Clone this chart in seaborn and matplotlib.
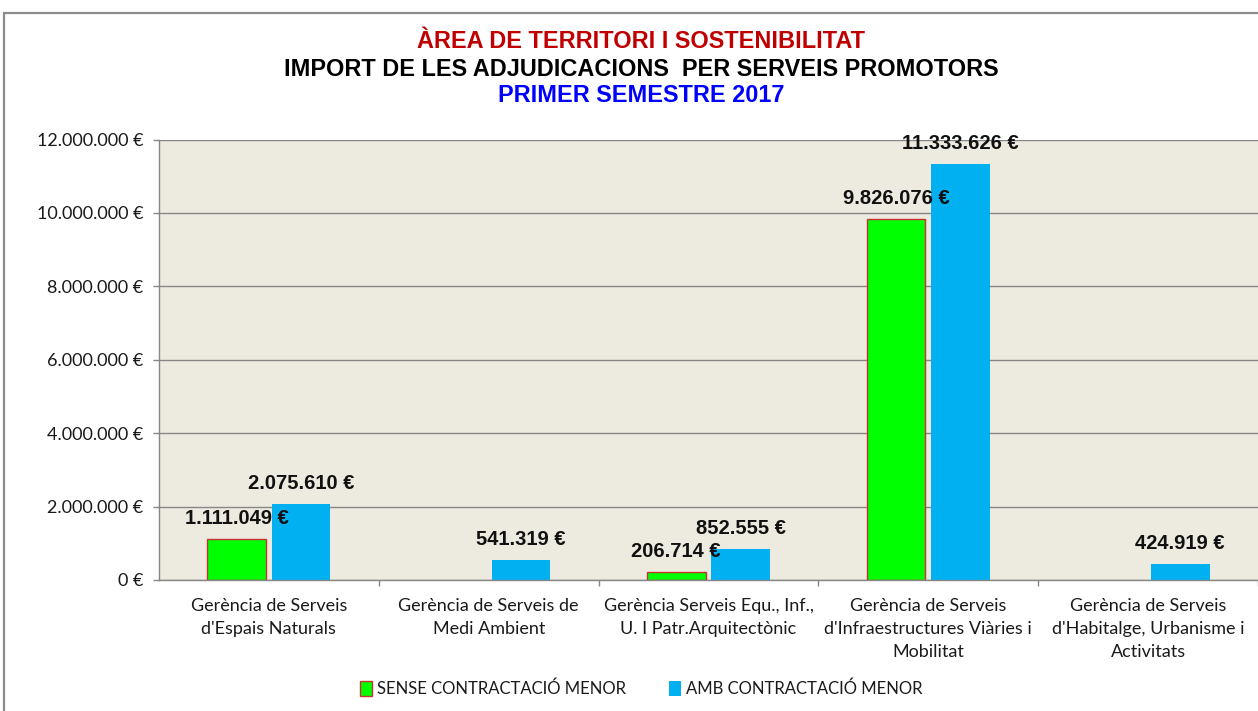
import numpy as np
import pandas as pd
import matplotlib
matplotlib.use("Agg")
import matplotlib.pyplot as plt
from matplotlib.lines import Line2D
from matplotlib.patches import Patch
from matplotlib.ticker import FuncFormatter, MultipleLocator, FixedLocator
import seaborn as sns

categories = [
    "Gerència de Serveis\nd'Espais Naturals",
    "Gerència de Serveis de\nMedi Ambient",
    "Gerència Serveis Equ., Inf.,\nU. I Patr.Arquitectònic",
    "Gerència de Serveis\nd'Infraestructures Viàries i\nMobilitat",
    "Gerència de Serveis\nd'Habitalge, Urbanisme i\nActivitats",
]
series_names = ["SENSE CONTRACTACIÓ MENOR", "AMB CONTRACTACIÓ MENOR"]
sense_values = [1111049, 0, 206714, 9826076, 0]
amb_values = [2075610, 541319, 852555, 11333626, 424919]
title_lines = ["ÀREA DE TERRITORI I SOSTENIBILITAT",
               "IMPORT DE LES ADJUDICACIONS  PER SERVEIS PROMOTORS",
               "PRIMER SEMESTRE 2017"]

colors = {"SENSE CONTRACTACIÓ MENOR": "#00FF00", "AMB CONTRACTACIÓ MENOR": "#00B0F0"}

rows = []
for c, s, a in zip(categories, sense_values, amb_values):
    if s:
        rows.append((c, series_names[0], s))
    if a:
        rows.append((c, series_names[1], a))
df = pd.DataFrame(rows, columns=["cat", "serie", "value"])

def euro(v, pos=None):
    return f"{v:,.0f}".replace(",", ".") + " €"

sns.set_theme(style="white")
plt.rcParams['font.family'] = ['Lato', 'DejaVu Sans']

W, H = 1258, 711
fig = plt.figure(figsize=(W / 100, H / 100), dpi=100)
ax = fig.add_axes([159 / W, 1 - 580 / H, 1 - 159 / W, (580 - 139.5) / H])
ax.set_facecolor("#EDEAE0")

sns.barplot(data=df, x="cat", y="value", hue="serie", order=categories,
            hue_order=series_names, palette=colors, width=0.586, gap=0.09,
            saturation=1, ax=ax, legend=False)

# style bars
for p in ax.containers[0]:
    p.set_edgecolor("#C83232")
    p.set_linewidth(1.0)
for p in ax.containers[1]:
    p.set_edgecolor("none")

lab_font = dict(family=['Liberation Sans', 'DejaVu Sans'], fontsize=14.5,
                fontweight='bold', color='#111111')
for cont in ax.containers:
    labels = [euro(b.get_height()) if b.get_height() > 0 else "" for b in cont]
    ax.bar_label(cont, labels=labels, padding=8, **lab_font)
    for t in ax.texts[-len(labels):]:
        t.set_clip_on(False)

ax.set_ylim(0, 12000000)
ax.set_xlim(-0.5, 4.5)
ax.yaxis.set_major_locator(MultipleLocator(2000000))
ax.yaxis.set_major_formatter(FuncFormatter(euro))
ax.grid(axis='y', color='#868686', linewidth=1.0)
ax.set_axisbelow(True)
ax.set_xlabel("")
ax.set_ylabel("")

for s in ["top", "right"]:
    ax.spines[s].set_visible(False)
for s in ["left", "bottom"]:
    ax.spines[s].set_color("#868686")
    ax.spines[s].set_linewidth(1.0)

ax.tick_params(axis='y', which='major', left=True, length=4.5, width=1,
               color='#868686', pad=7, labelsize=13, labelcolor='#1a1a1a')
ax.tick_params(axis='x', which='major', bottom=False, length=0, pad=13,
               labelsize=13, labelcolor='#1a1a1a')
ax.xaxis.set_minor_locator(FixedLocator([0.5, 1.5, 2.5, 3.5, 4.5]))
ax.tick_params(axis='x', which='minor', bottom=True, length=4.5, width=1,
               color='#868686')
for t in ax.get_xticklabels():
    t.set_linespacing(1.55)

# titles
title_colors = ["#C00000", "#000000", "#0000FF"]
title_y = [41, 69, 96]
for txt, col, y in zip(title_lines, title_colors, title_y):
    fig.text(641 / W, 1 - y / H, txt, ha='center', va='center', color=col,
             fontsize=16.9, fontweight='bold',
             family=['Liberation Sans', 'DejaVu Sans'])

# legend
handles = [Patch(facecolor=colors[series_names[0]], edgecolor="#C83232", linewidth=1.0),
           Patch(facecolor=colors[series_names[1]], edgecolor="none")]
fig.legend(handles, series_names, loc='center', bbox_to_anchor=(641 / W, 1 - 689 / H),
           ncol=2, frameon=False, fontsize=12, handlelength=0.7, handleheight=1.0,
           handletextpad=0.3, columnspacing=2.6, labelcolor='#1a1a1a')

# figure border (left and top visible)
bc = "#8C8C8C"
fig.add_artist(Line2D([4 / W, 4 / W], [0, 1 - 13 / H], color=bc, linewidth=1.6,
                      transform=fig.transFigure))
fig.add_artist(Line2D([4 / W, 1], [1 - 13 / H, 1 - 13 / H], color=bc, linewidth=1.6,
                      transform=fig.transFigure))

fig.savefig("out.png", dpi=100, facecolor="white")
